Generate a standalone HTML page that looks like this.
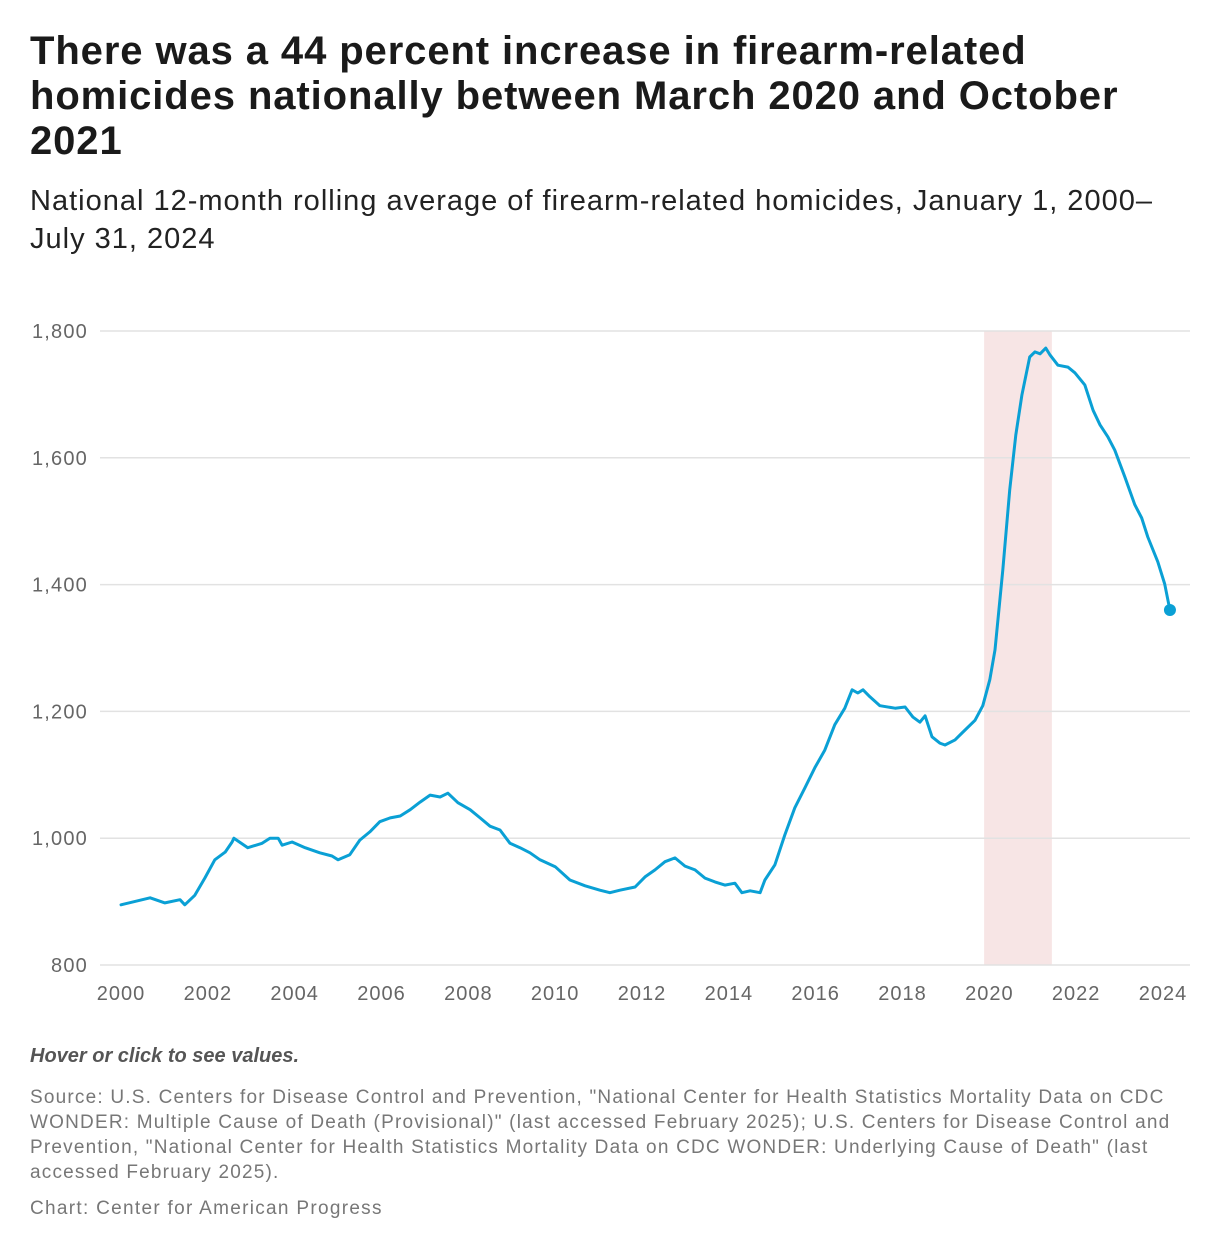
<!DOCTYPE html>
<html><head><meta charset="utf-8">
<style>
body{margin:0;background:#fff;font-family:"Liberation Sans",sans-serif;}
#wrap{position:relative;width:1220px;height:1254px;overflow:hidden;}
h1{position:absolute;left:30px;top:29px;margin:0;width:1180px;font-size:40px;line-height:45px;font-weight:bold;color:#1a1a1a;letter-spacing:0.9px;white-space:nowrap;}
.sub{position:absolute;left:30px;top:182px;width:1185px;font-size:29px;line-height:38px;color:#222;letter-spacing:1px;white-space:nowrap;}
.hover{position:absolute;left:30px;top:1045px;font-size:20px;font-weight:bold;font-style:italic;color:#555;}
.src{position:absolute;left:30px;top:1085px;width:1180px;font-size:19px;line-height:25px;color:#777;letter-spacing:1.2px;white-space:nowrap;}
.cred{position:absolute;left:30px;top:1198px;font-size:19px;color:#777;letter-spacing:1.3px;}
svg{position:absolute;left:0;top:0;}
</style></head><body>
<div id="wrap">
<h1>There was a 44 percent increase in firearm-related<br>homicides nationally between March 2020 and October<br>2021</h1>
<div class="sub">National 12-month rolling average of firearm-related homicides, January 1, 2000–<br>July 31, 2024</div>
<svg id="chart" width="1220" height="1254"></svg>
<div class="hover">Hover or click to see values.</div>
<div class="src">Source: U.S. Centers for Disease Control and Prevention, "National Center for Health Statistics Mortality Data on CDC<br>WONDER: Multiple Cause of Death (Provisional)" (last accessed February 2025); U.S. Centers for Disease Control and<br>Prevention, "National Center for Health Statistics Mortality Data on CDC WONDER: Underlying Cause of Death" (last<br>accessed February 2025).</div>
<div class="cred">Chart: Center for American Progress</div>
</div>
<script>
const years=[0,0.67,1.01,1.36,1.47,1.70,1.93,2.16,2.40,2.56,2.60,2.92,3.25,3.43,3.62,3.71,3.94,4.24,4.58,4.86,5.00,5.27,5.50,5.73,5.96,6.20,6.43,6.66,6.89,7.12,7.35,7.53,7.76,8.04,8.27,8.50,8.73,8.96,9.19,9.42,9.65,10.00,10.34,10.69,11.03,11.26,11.49,11.84,12.07,12.30,12.53,12.76,12.99,13.22,13.45,13.68,13.91,14.14,14.30,14.49,14.72,14.83,15.06,15.29,15.52,15.75,15.98,16.21,16.44,16.67,16.84,16.97,17.09,17.25,17.48,17.83,18.06,18.24,18.40,18.52,18.68,18.86,18.98,19.21,19.37,19.67,19.85,20.01,20.13,20.31,20.47,20.61,20.75,20.93,21.05,21.17,21.30,21.40,21.58,21.81,21.97,22.20,22.39,22.55,22.73,22.89,23.12,23.35,23.51,23.65,23.88,24.04,24.16];
const values=[895,906,898,903,895,910,937,966,978,994,1000,985,992,1000,1000,989,994,985,977,972,966,974,997,1010,1026,1032,1035,1045,1057,1068,1065,1071,1056,1045,1032,1019,1013,992,985,977,966,955,934,925,918,914,918,923,939,950,963,969,956,950,937,931,926,929,914,917,914,934,958,1005,1048,1079,1111,1139,1179,1205,1234,1229,1234,1223,1209,1205,1207,1191,1183,1193,1160,1150,1147,1155,1166,1186,1209,1250,1297,1423,1549,1636,1699,1759,1767,1764,1773,1762,1746,1743,1734,1715,1675,1652,1633,1612,1570,1526,1505,1475,1436,1401,1360];
const yTicks=[800,1000,1200,1400,1600,1800];
const yTickLabels=["800","1,000","1,200","1,400","1,600","1,800"];
const xTicks=[2000,2002,2004,2006,2008,2010,2012,2014,2016,2018,2020,2022,2024];
const shadeRange=[19.88,21.44];
const NS="http://www.w3.org/2000/svg";
const svg=document.getElementById('chart');
const X=y=>121+(y-2000)/24*1042;
const XR=t=>121+t/24*1042;
const Y=v=>965-(v-800)*0.634;
function mk(tag,attrs){const e=document.createElementNS(NS,tag);for(const k in attrs)e.setAttribute(k,attrs[k]);svg.appendChild(e);return e;}
const sh=mk('rect',{x:XR(shadeRange[0]),y:Y(1800),width:XR(shadeRange[1])-XR(shadeRange[0]),height:Y(800)-Y(1800),fill:'#f7e5e5'});


yTicks.forEach((t,i)=>{
 const g=mk('line',{x1:100,x2:1190,y1:Y(t),y2:Y(t),stroke:'#e2e2e2','stroke-width':1.5});
 
 
 const l=mk('text',{x:88,y:Y(t)+7,'text-anchor':'end','font-size':20,fill:'#666','letter-spacing':'1.2','font-family':'Liberation Sans, sans-serif'});
 l.textContent=yTickLabels[i];
 
 
});
xTicks.forEach(t=>{
 const l=mk('text',{x:X(t),y:1000,'text-anchor':'middle','font-size':20,fill:'#666','letter-spacing':'1','font-family':'Liberation Sans, sans-serif'});
 l.textContent=t;
 
 
});
let d='';years.forEach((t,i)=>{d+=(i?'L':'M')+XR(t).toFixed(1)+','+Y(values[i]).toFixed(1);});
const p=mk('path',{d:d,fill:'none',stroke:'#0aa0d5','stroke-width':3,'stroke-linejoin':'round','stroke-linecap':'round'});


const n=years.length-1;
const c=mk('circle',{cx:XR(years[n]),cy:Y(values[n]),r:6,fill:'#0aa0d5'});


</script>
</body></html>
